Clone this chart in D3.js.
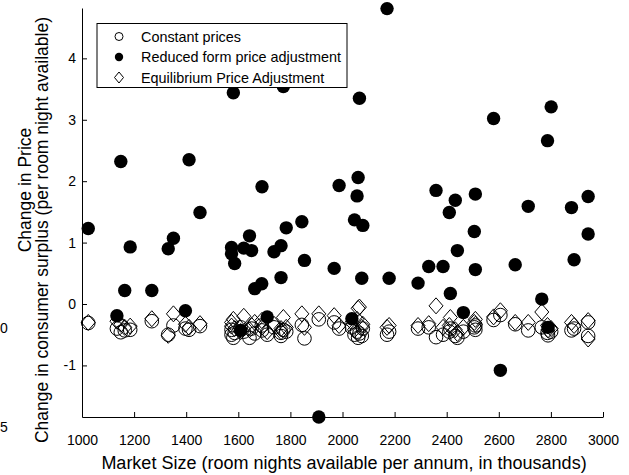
<!DOCTYPE html>
<html>
<head>
<meta charset="utf-8">
<script src="https://cdn.jsdelivr.net/npm/d3@7"></script>
<style>
  body { margin: 0; background: #fff; }
  svg { display: block; font-family: "Liberation Sans", Arial, sans-serif; }
</style>
</head>
<body>
<svg id="chart" width="629" height="475"></svg>
<script>
// one entry per market
const marketSize = [
  1024, 1134, 1149, 1164, 1185, 1268, 1331, 1351, 1397, 1411, 1453,
  1574, 1574, 1581, 1586, 1609, 1621, 1643, 1651, 1663, 1690, 1691,
  1711, 1737, 1764, 1764, 1773, 1784, 1844, 1854, 1909, 1968, 1987,
  2036, 2046, 2056, 2060, 2065, 2074, 2078, 2171, 2179, 2290, 2331,
  2359, 2386, 2410, 2414, 2433, 2441, 2464, 2506, 2510, 2510, 2580,
  2606, 2663, 2713, 2765, 2787, 2789, 2801, 2879, 2889, 2943, 2943,
];
const reducedForm = [
  1.23, -0.19, 2.32, 0.22, 0.93, 0.22, 0.9, 1.07, -0.11, 2.35, 1.49,
  0.92, 0.82, 3.44, 0.66, -0.43, 0.91, 1.11, 0.87, 0.25, 0.33, 1.91,
  -0.21, 0.85, 0.95, 0.43, 3.54, 1.24, 1.34, 0.71, -1.84, 0.58, 1.93,
  -0.24, 1.37, 1.76, 2.06, 3.35, 0.42, 1.28, 4.81, 0.42, 0.34, 0.61,
  1.85, 0.61, 1.49, 0.17, 1.69, 0.87, -0.14, 1.18, 1.79, 0.56, 3.02,
  -1.08, 0.64, 1.59, 0.08, 2.66, -0.38, 3.21, 1.57, 0.72, 1.75, 1.14,
];
const constantPrices = [
  -0.31, -0.4, -0.46, -0.43, -0.42, -0.28, -0.5, -0.35, -0.4, -0.42, -0.36,
  -0.5, -0.42, -0.55, -0.47, -0.38, -0.45, -0.55, -0.4, -0.48, -0.35, -0.43,
  -0.5, -0.38, -0.47, -0.52, -0.42, -0.45, -0.34, -0.56, -0.25, -0.3, -0.4,
  -0.38, -0.5, -0.45, -0.55, -0.48, -0.52, -0.4, -0.5, -0.45, -0.4, -0.38,
  -0.54, -0.5, -0.45, -0.4, -0.52, -0.55, -0.45, -0.38, -0.42, -0.35, -0.26,
  -0.18, -0.33, -0.43, -0.38, -0.47, -0.51, -0.45, -0.43, -0.4, -0.3, -0.52,
];
const equilibrium = [
  -0.3, -0.28, -0.33, -0.38, -0.36, -0.24, -0.51, -0.16, -0.33, -0.38, -0.32,
  -0.3, -0.36, -0.25, -0.4, -0.45, -0.2, -0.42, -0.35, -0.3, -0.27, -0.38,
  -0.45, -0.33, -0.4, -0.45, -0.22, -0.38, -0.16, -0.38, -0.16, -0.19, -0.35,
  -0.3, -0.42, -0.25, -0.07, -0.05, -0.38, -0.33, -0.38, -0.35, -0.35, -0.32,
  -0.03, -0.38, -0.35, -0.22, -0.42, -0.48, -0.38, -0.3, -0.33, -0.25, -0.21,
  -0.11, -0.3, -0.3, -0.13, -0.35, -0.42, -0.4, -0.3, -0.35, -0.27, -0.57,
];

const xTicks = [1000, 1200, 1400, 1600, 1800, 2000, 2200, 2400, 2600, 2800, 3000];
const yTicks = [-1, 0, 1, 2, 3, 4];
const legendLabels = ["Constant prices", "Reduced form price adjustment", "Equilibrium Price Adjustment"];

const svg = d3.select("#chart");

const x = d3.scaleLinear().domain([1000, 3000]).range([82, 603]);
const y = d3.scaleLinear().domain([-1.84, 4.82]).range([417, 8]);

// axes: only left and bottom, ticks pointing inward
const xAxis = svg
  .append("g")
  .attr("transform", "translate(0,417)")
  .call(
    d3.axisBottom(x).tickValues(xTicks).tickSizeInner(-5).tickSizeOuter(0).tickPadding(18)
      .tickFormat((d) => String(d)),
  );
const yAxis = svg
  .append("g")
  .attr("transform", "translate(82,0)")
  .call(
    d3.axisLeft(y).tickValues(yTicks).tickSizeInner(-5).tickSizeOuter(0).tickPadding(6)
      .tickFormat((d) => String(d)),
  );
[xAxis, yAxis].forEach((a) => {
  a.select(".domain").attr("stroke", "#000");
  a.selectAll(".tick line").attr("stroke", "#000");
  a.selectAll("text").attr("fill", "#000").style("font-size", "14px");
});

// axis titles
svg
  .append("text")
  .attr("x", 344)
  .attr("y", 469)
  .attr("text-anchor", "middle")
  .style("font-size", "18px")
  .text("Market Size (room nights available per annum, in thousands)");
svg
  .append("text")
  .attr("transform", "translate(31,190) rotate(-90)")
  .attr("text-anchor", "middle")
  .style("font-size", "17.5px")
  .text("Change in Price");
svg
  .append("text")
  .attr("transform", "translate(48,230) rotate(-90)")
  .attr("text-anchor", "middle")
  .style("font-size", "17.5px")
  .text("Change in consumer surplus (per room night available)");

// leftover labels at the left edge
svg.append("text").attr("x", 0).attr("y", 333).style("font-size", "14px").text("0");
svg.append("text").attr("x", 0).attr("y", 432).style("font-size", "14px").text("5");

const idx = d3.range(marketSize.length);
const diamond = (hw, hh) => `M0,${-hh}L${hw},0L0,${hh}L${-hw},0Z`;

const plot = svg.append("g");

plot
  .selectAll("circle.const")
  .data(idx)
  .enter()
  .append("circle")
  .attr("class", "const")
  .attr("cx", (i) => x(marketSize[i]))
  .attr("cy", (i) => y(constantPrices[i]))
  .attr("r", 6.8)
  .attr("fill", "none")
  .attr("stroke", "#000")
  .attr("stroke-width", 1);

plot
  .selectAll("circle.reduced")
  .data(idx)
  .enter()
  .append("circle")
  .attr("class", "reduced")
  .attr("cx", (i) => x(marketSize[i]))
  .attr("cy", (i) => y(reducedForm[i]))
  .attr("r", 6.7)
  .attr("fill", "#000");

plot
  .selectAll("path.equil")
  .data(idx)
  .enter()
  .append("path")
  .attr("class", "equil")
  .attr("transform", (i) => `translate(${x(marketSize[i])},${y(equilibrium[i])})`)
  .attr("d", diamond(7, 8))
  .attr("fill", "none")
  .attr("stroke", "#000")
  .attr("stroke-width", 1);

// legend box
const legend = svg.append("g");
legend
  .append("rect")
  .attr("x", 97)
  .attr("y", 23.5)
  .attr("width", 250)
  .attr("height", 64)
  .attr("fill", "#fff")
  .attr("stroke", "#000");

const rows = [36.5, 57, 77.5];
legendLabels.forEach((label, k) => {
  const cy = rows[k];
  if (k === 0) {
    legend.append("circle").attr("cx", 119).attr("cy", cy).attr("r", 4)
      .attr("fill", "none").attr("stroke", "#000");
  } else if (k === 1) {
    legend.append("circle").attr("cx", 119).attr("cy", cy).attr("r", 4.2).attr("fill", "#000");
  } else {
    legend.append("path").attr("transform", `translate(119,${cy})`).attr("d", diamond(4.5, 5.5))
      .attr("fill", "none").attr("stroke", "#000");
  }
  legend.append("text").attr("x", 141).attr("y", cy + 5).style("font-size", "14.4px").text(label);
});
</script>
</body>
</html>
